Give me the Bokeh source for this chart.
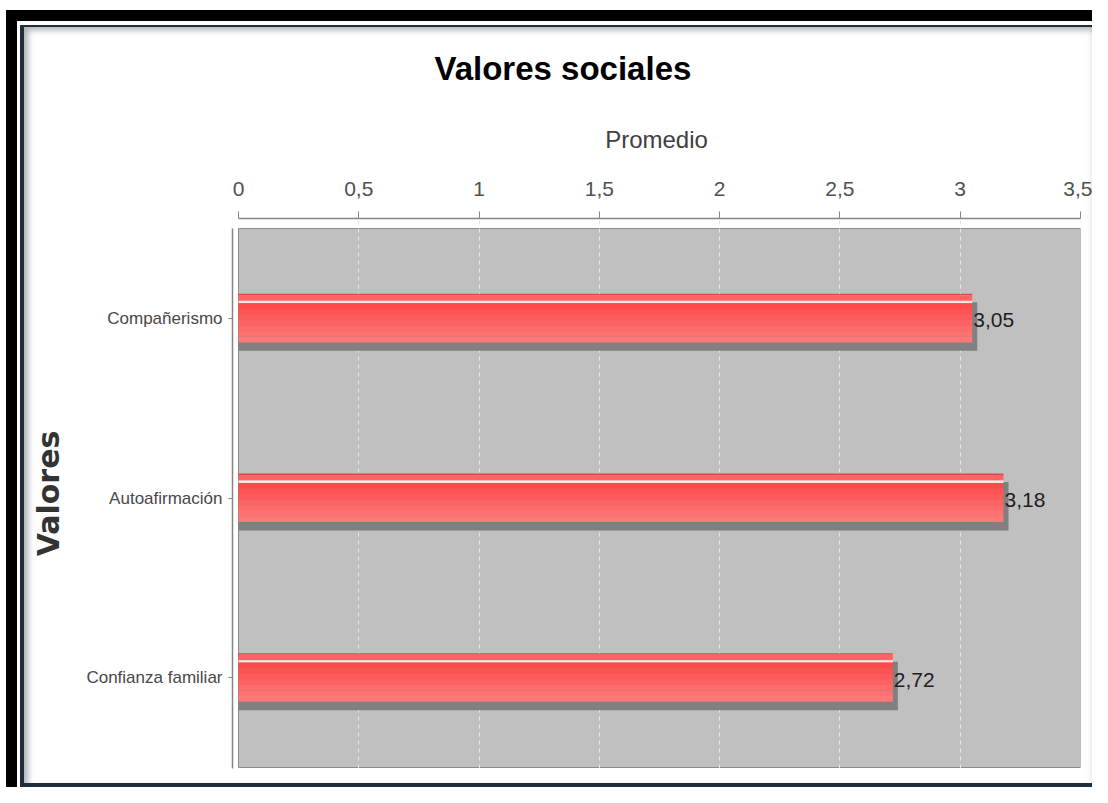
from bokeh.plotting import figure
from bokeh.models import Range1d, FixedTicker, CustomJSTickFormatter
from bokeh.core.properties import value
from bokeh.embed import file_html
from bokeh.resources import INLINE

# ---------------- data ----------------
categories = ["Compañerismo", "Autoafirmación", "Confianza familiar"]
promedios = [3.05, 3.18, 2.72]
x_ticks = [0, 0.5, 1, 1.5, 2, 2.5, 3, 3.5]
title_text = "Valores sociales"
x_label = "Promedio"
y_label = "Valores"

# ---------------- styles ----------------
SANS = "Liberation Sans"
W, H = 1092, 787
FL, FR, FT, FB = 232, 1080, 218, 768          # frame edges (px)
n = len(categories)
ypos = [n - 1 - i for i in range(n)]
PXX = (FR - FL - 6) / (x_ticks[-1] - x_ticks[0])   # px per x unit
PXY = (FB - FT - 11) / n                          # px per category

x0 = x_ticks[0] - 6 / PXX
y_top = (n - 0.5) + 10 / PXY
y_bot = -0.5 - 1 / PXY

p = figure(width=W, height=H, output_backend="svg", toolbar_location=None,
           x_axis_location="above",
           x_range=Range1d(x0, x_ticks[-1]), y_range=Range1d(y_bot, y_top),
           min_border_left=FL, min_border_right=W - FR,
           min_border_top=FT, min_border_bottom=H - FB,
           background_fill_color="white", border_fill_color="white",
           border_fill_alpha=0)
p.outline_line_color = None

# decorative picture frame (CSS, behind the transparent border area)
p.styles = {
    "background-color": "white",
    "box-shadow": ", ".join([
        "inset 3px 7px 0 3px white",
        "inset 9px 13px 0 8px black",
        "inset 10px 15px 0 10px white",
        "inset 12px 15px 0 12px #1f2d3d",
        "inset 2px -2px 0 2px #1f2d3d",
        "inset 15px 17px 6px 13px rgba(90,100,110,0.5)",
    ]),
}

# title
p.title.text = title_text
p.title.align = "left"
p.title.offset = 202
p.title.text_font = SANS
p.title.text_font_size = "33px"
p.title.text_font_style = "bold"
p.title.text_color = "#000000"
p.title.standoff = 71

# plot area background
bg = p.quad(left=x_ticks[0], right=x_ticks[-1], bottom=-0.5, top=n - 0.5,
            fill_color="#c0c0c0", line_color="#8c8c8c", line_width=1)
bg.level = "image"

# grid
p.ygrid.visible = False
p.xgrid.ticker = FixedTicker(ticks=x_ticks[1:-1])
p.xgrid.grid_line_color = "#e6e6e6"
p.xgrid.grid_line_dash = "4 4"
p.xgrid.grid_line_width = 1

# x axis (top)
xa = p.xaxis[0]
xa.ticker = FixedTicker(ticks=x_ticks)
xa.bounds = (x_ticks[0], x_ticks[-1])
xa.formatter = CustomJSTickFormatter(code="return tick.toString().replace('.', ',');")
xa.axis_label = x_label
xa.axis_label_text_font = SANS
xa.axis_label_text_font_size = "24px"
xa.axis_label_text_font_style = "normal"
xa.axis_label_text_color = "#404040"
xa.axis_label_standoff = 26
xa.major_label_text_font = SANS
xa.major_label_text_font_size = "21px"
xa.major_label_text_color = "#505050"
xa.major_label_standoff = 16
xa.axis_line_color = "#858585"
xa.axis_line_width = 1.5
xa.major_tick_line_color = "#858585"
xa.major_tick_out = 7
xa.major_tick_in = 0
xa.minor_tick_line_color = None

# y axis (left)
ya = p.yaxis[0]
ya.ticker = FixedTicker(ticks=ypos)
ya.major_label_overrides = {y: c for y, c in zip(ypos, categories)}
ya.bounds = (y_bot, n - 0.5)
ya.axis_label = y_label
ya.axis_label_text_font = "DejaVu Sans"
ya.axis_label_text_font_size = "30px"
ya.axis_label_text_font_style = "bold"
ya.axis_label_text_color = "#333333"
ya.axis_label_standoff = 17
ya.major_label_text_font = SANS
ya.major_label_text_font_size = "17px"
ya.major_label_text_color = "#484848"
ya.major_label_standoff = 6
ya.axis_line_color = "#858585"
ya.axis_line_width = 1.5
ya.major_tick_line_color = "#858585"
ya.major_tick_out = 4
ya.major_tick_in = 0
ya.minor_tick_line_color = None


def band(top_px, bot_px):
    yc = [y - (top_px + bot_px) / 2 / PXY for y in ypos]
    return yc, (bot_px - top_px) / PXY


# shadow
yc, hh = band(-16, 32.5)
p.hbar(y=yc, height=hh, left=0, right=[v + 5 / PXX for v in promedios],
       fill_color="#808080", line_color=None)

# bar layers (3D look)
layers = [(-24.5, -23, "#e24646"), (-23, -17.5, "#ff6464"), (-17.5, -15, "#ffe2e2")]
grad = ["#ff4a4a", "#ff5252", "#ff5a5a", "#ff6262", "#ff6a6a", "#ff7272", "#ff7878"]
step = 39 / len(grad)
for k, c in enumerate(grad):
    layers.append((-15 + k * step, -15 + (k + 1) * step, c))
for t, b, c in layers:
    yc, hh = band(t, b)
    p.hbar(y=yc, height=hh * 1.02, left=0, right=promedios, fill_color=c, line_color=None)

# value labels
labels = [f"{v:.2f}".replace(".", ",") for v in promedios]
p.text(x=promedios, y=ypos, text=labels, x_offset=1, y_offset=2,
       text_font=value(SANS), text_font_size="21px", text_color="#1e1e1e",
       text_align="left", text_baseline="middle")

open("out.html", "w").write(file_html(p, INLINE))
